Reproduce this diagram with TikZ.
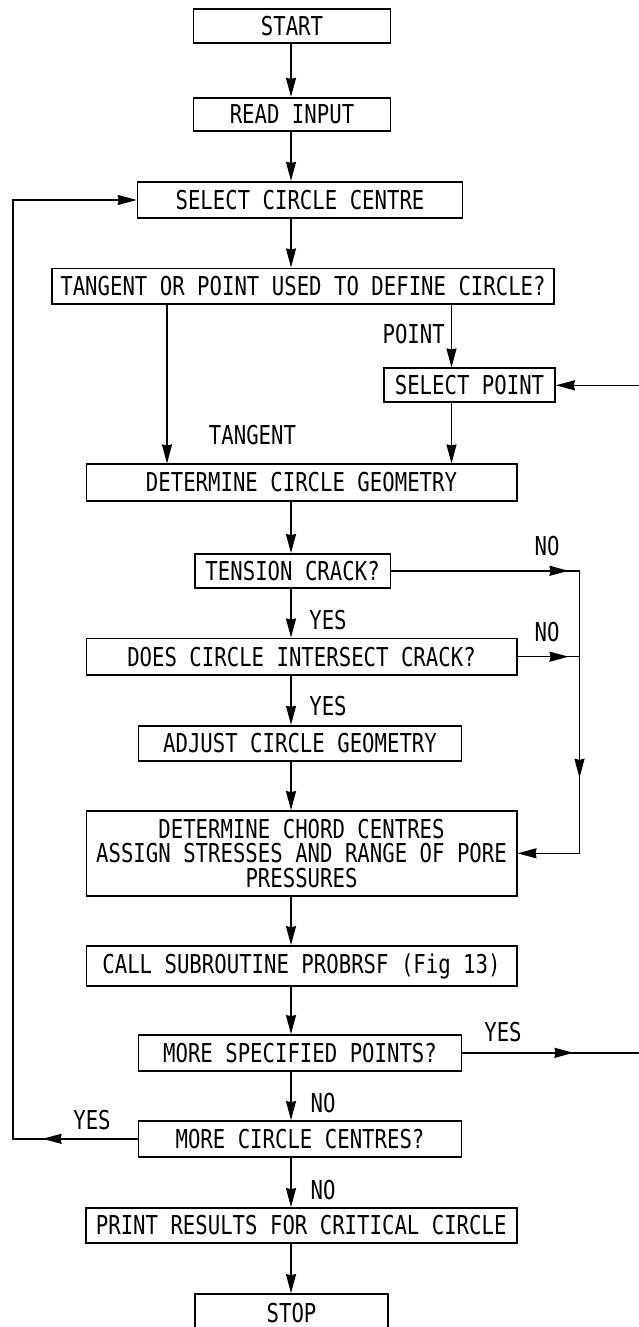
\documentclass[tikz,border=0pt]{standalone}
\usepackage{fontspec}
\newfontfamily\flowfont[FakeStretch=0.795]{DejaVu Sans Mono}
\usetikzlibrary{arrows.meta,decorations.markings}
\tikzset{
  flowtxt/.style={font=\flowfont\fontsize{26pt}{24.3pt}\selectfont},
  box/.style={draw,line width=1.7pt,inner sep=0pt,align=center,flowtxt},
  lbl/.style={inner sep=0pt,flowtxt},
  conn/.style={line width=1.5pt,line cap=rect},
  arr/.style={conn,-{Stealth[length=19pt,width=10pt,inset=1pt]}},
  midarr/.style={conn,postaction={decorate},decoration={markings,mark=at position #1 with {\arrow{Stealth[length=19pt,width=10pt,inset=1pt]}}}},
}
\begin{document}
\begin{tikzpicture}[x=1pt,y=-1pt]
\useasboundingbox (0,0) rectangle (639,1327);
\fill[white] (0,0) rectangle (639,1327);
\clip (0,0) rectangle (639,1327);

\node[box,minimum width=197pt,minimum height=34pt] (start) at (292,26.3) {START};
\node[box,minimum width=197pt,minimum height=33pt] (read) at (292,114.2) {READ INPUT};
\node[box,minimum width=325pt,minimum height=36.6pt] (sel) at (300,200) {SELECT CIRCLE CENTRE};
\node[box,minimum width=502.4pt,minimum height=35.7pt] (tan) at (303,286.2) {TANGENT OR POINT USED TO DEFINE CIRCLE?};
\node[box,minimum width=171pt,minimum height=34pt] (sp) at (469.5,385.3) {SELECT POINT};
\node[box,minimum width=430.3pt,minimum height=36.4pt] (dcg) at (301.5,482.5) {DETERMINE CIRCLE GEOMETRY};
\node[box,minimum width=195.6pt,minimum height=33.7pt] (ten) at (292.6,570.8) {TENSION CRACK?};
\node[box,minimum width=430.3pt,minimum height=36.7pt] (does) at (301.5,656.7) {DOES CIRCLE INTERSECT CRACK?};
\node[box,minimum width=323.2pt,minimum height=35.3pt] (adj) at (300,743.3) {ADJUST CIRCLE GEOMETRY};
\node[box,minimum width=430.3pt,minimum height=84.7pt] (chord) at (301.5,853.3) {DETERMINE CHORD CENTRES\\ASSIGN STRESSES AND RANGE OF PORE\\PRESSURES};
\node[box,minimum width=430.3pt,minimum height=40pt] (call) at (301.5,966) {CALL SUBROUTINE PROBRSF (Fig 13)};
\node[box,minimum width=323.2pt,minimum height=35.7pt] (msp) at (300,1052.8) {MORE SPECIFIED POINTS?};
\node[box,minimum width=323.2pt,minimum height=35.7pt] (mcc) at (300,1138.8) {MORE CIRCLE CENTRES?};
\node[box,minimum width=431pt,minimum height=35pt] (print) at (301.2,1225.5) {PRINT RESULTS FOR CRITICAL CIRCLE};
\node[box,minimum width=193pt,minimum height=60pt] (stop) at (291.5,1324) {};
\node[lbl] (lstop) at (291.5,1313.5) {STOP};

\node[lbl,anchor=east] (lpoint) at (445,334) {POINT};
\node[lbl] (ltan) at (252.5,435) {TANGENT};
\node[lbl] (lno1) at (547,546) {NO};
\node[lbl] (lno2) at (547,632.5) {NO};
\node[lbl] (lyes1) at (328,620) {YES};
\node[lbl] (lyes2) at (328,706) {YES};
\node[lbl] (lyes3) at (503,1032) {YES};
\node[lbl] (lno3) at (323,1103) {NO};
\node[lbl] (lyes4) at (92,1120) {YES};
\node[lbl] (lno4) at (323,1190) {NO};

\coordinate (spine) at (291,0);
\coordinate (lb) at (167,0);
\coordinate (rb) at (451.5,0);
\coordinate (rx) at (579.5,0);
\coordinate (edge) at (645,0);
\coordinate (lx) at (13,0);

\draw[arr] (start.south -| spine) -- (read.north -| spine);
\draw[arr] (read.south -| spine) -- (sel.north -| spine);
\draw[arr] (sel.south -| spine) -- (tan.north -| spine);
\draw[arr] (tan.south -| lb) -- (dcg.north -| lb);
\draw[arr] (tan.south -| rb) -- (sp.north -| rb);
\draw[arr] (sp.south -| rb) -- (dcg.north -| rb);
\draw[arr] (edge |- sp.east) -- (sp.east);
\draw[arr] (dcg.south -| spine) -- (ten.north -| spine);
\draw[midarr=-11pt] (ten.east) -- (ten.east -| rx);
\draw[midarr=207pt] (ten.east -| rx) -- (chord.east -| rx);
\draw[arr] (chord.east -| rx) -- (chord.east);
\draw[arr] (ten.south -| spine) -- (does.north -| spine);
\draw[midarr=-11pt] (does.east) -- (does.east -| rx);
\draw[arr] (does.south -| spine) -- (adj.north -| spine);
\draw[arr] (adj.south -| spine) -- (chord.north -| spine);
\draw[arr] (chord.south -| spine) -- (call.north -| spine);
\draw[arr] (call.south -| spine) -- (msp.north -| spine);
\draw[midarr=111pt] (msp.east) -- (msp.east -| edge);
\draw[arr] (msp.south -| spine) -- (mcc.north -| spine);
\draw[arr,midarr=95pt] (mcc.west) -- (mcc.west -| lx) |- (sel.west);
\draw[arr] (mcc.south -| spine) -- (print.north -| spine);
\draw[arr] (print.south -| spine) -- (stop.north -| spine);
\end{tikzpicture}
\end{document}
